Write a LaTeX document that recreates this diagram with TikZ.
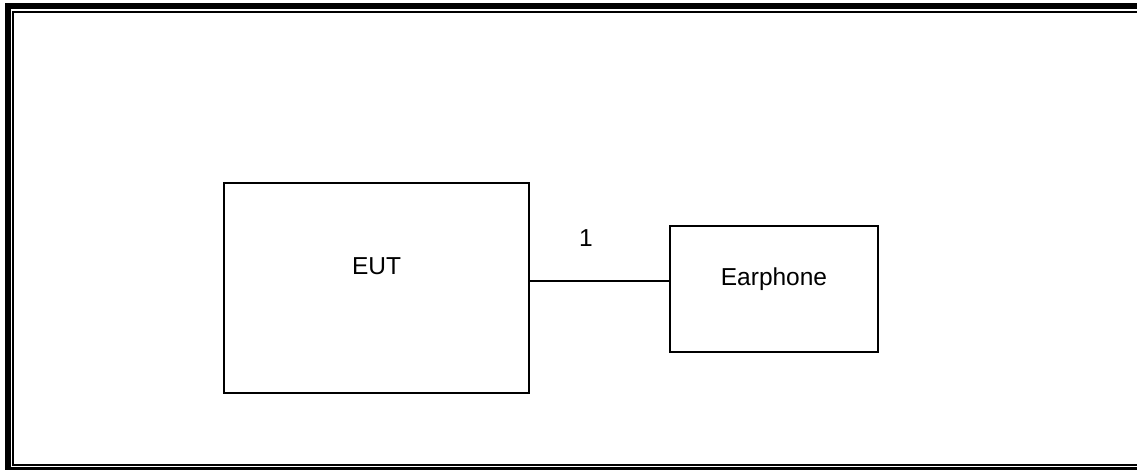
\documentclass[tikz,border=0pt]{standalone}
\usepackage{fontspec}
\setmainfont{Liberation Sans}
\begin{document}
\begin{tikzpicture}[x=1pt,y=-1pt,
  boxnode/.style={draw,line width=2pt,inner sep=0pt},
  txt/.style={inner sep=0pt,anchor=base,font=\fontsize{24.5}{29}\selectfont},
  wire/.style={line width=2pt}]
\useasboundingbox (0,0) rectangle (1137,469);
\clip (0,0) rectangle (1137,469);
% frame
\draw[line width=6pt] (8,6) rectangle (1160,470);
\draw[line width=2pt] (13,12) rectangle (1150,465);
% boxes
\node[boxnode,minimum width=305pt,minimum height=210pt] (eut) at (376.5,288) {};
\node[boxnode,minimum width=208pt,minimum height=126pt] (ear) at (774,289) {};
\node[txt] (eutlabel) at (376.5,274) {EUT};
\node[txt] (earlabel) at (774,285.7) {Earphone};
% connector
\coordinate (wy) at (600,281);
\draw[wire] (eut.east |- wy) -- (ear.west |- wy);
\node[txt] (one) at (586,246) {1};
\end{tikzpicture}
\end{document}
